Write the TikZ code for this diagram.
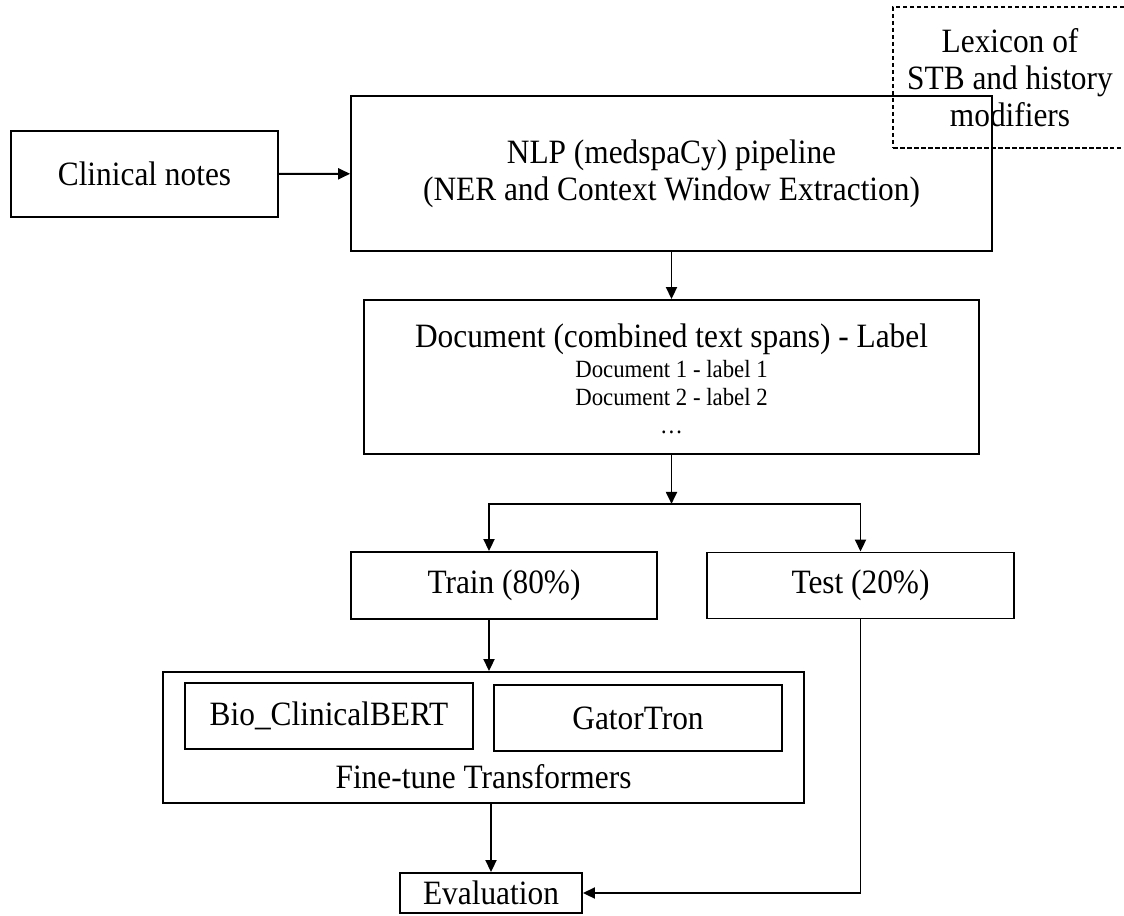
\documentclass[tikz,border=0pt]{standalone}
\usepackage{fontspec}
\setmainfont{Liberation Serif}[FakeStretch=0.92]
\usetikzlibrary{arrows.meta, positioning}

\begin{document}
\begin{tikzpicture}[x=0.02cm, y=-0.02cm,
	box/.style={draw, line width=1.1pt, inner sep=0pt, align=center,
		font=\fontsize{19.4}{21}\selectfont},
	lexbox/.style={box, line width=0.8pt, dash pattern=on 0.09cm off 0.05cm},
	plain/.style={inner sep=0pt, align=center, font=\fontsize{19.4}{21}\selectfont},
	rows/.style={inner sep=0pt, align=center, font=\fontsize{14.1}{15.9}\selectfont},
	arr/.style={-{Triangle[length=0.24cm, width=0.22cm]}, line width=1.1pt}]
		\useasboundingbox (0,0) rectangle (1124,915);

		% Input, pipeline and lexicon
		\node[box, minimum width=5.34cm, minimum height=1.72cm] (notes) at (144.5,174) {Clinical notes};
		\node[box, minimum width=12.82cm, minimum height=3.10cm] (nlp) at (671.5,173.5)
			{NLP (medspaCy) pipeline\\(NER and Context Window Extraction)};
		\node[lexbox, minimum width=4.68cm, minimum height=2.82cm] (lexicon) at (1010,77.5)
			{Lexicon of\\STB and history\\modifiers};

		% Documents with labels
		\node[box, minimum width=12.3cm, minimum height=3.08cm] (doc) at (671.5,377) {};
		\node[plain, anchor=base] (doctitle) at (671.5,347) {Document (combined text spans) - Label};
		\node[rows] (docrows) at (671.5,397) {Document 1 - label 1\\Document 2 - label 2\\\dots};

		% Split
		\node[box, minimum width=6.12cm, minimum height=1.34cm] (train) at (504,585.5) {Train (80\%)};
		\node[box, minimum width=6.14cm, minimum height=1.32cm] (test) at (860.5,585.5) {Test (20\%)};
		\coordinate (split) at ([yshift=-0.98cm]doc.south);

		% Models
		\node[box, minimum width=12.82cm, minimum height=2.62cm] (fine) at (483.5,737.5) {};
		\node[box, minimum width=5.76cm, minimum height=1.32cm] (bert) at (329,716) {Bio\_ClinicalBERT};
		\node[box, minimum width=5.76cm, minimum height=1.32cm] (gator) at (638,718) {GatorTron};
		\node[plain, anchor=base] (finelabel) at (483.5,788) {Fine-tune Transformers};

		\node[box, minimum width=3.64cm, minimum height=0.8cm] (eval) at (491,893) {Evaluation};

		% Arrows
		\draw[arr] (notes) -- (nlp);
		\draw[arr] (nlp.south) -- (doc.north);
		\draw[arr] (doc.south) -- (split);
		\draw[arr] (split) -| ([xshift=-0.3cm]train.north);
		\draw[arr] (split) -| (test.north);
		\draw[arr] ([xshift=-0.3cm]train.south) -- ([xshift=-0.3cm]train.south |- fine.north);
		\draw[arr] (eval.north |- fine.south) -- (eval.north);
		\draw[arr] (test.south) |- (eval.east);
\end{tikzpicture}
\end{document}
